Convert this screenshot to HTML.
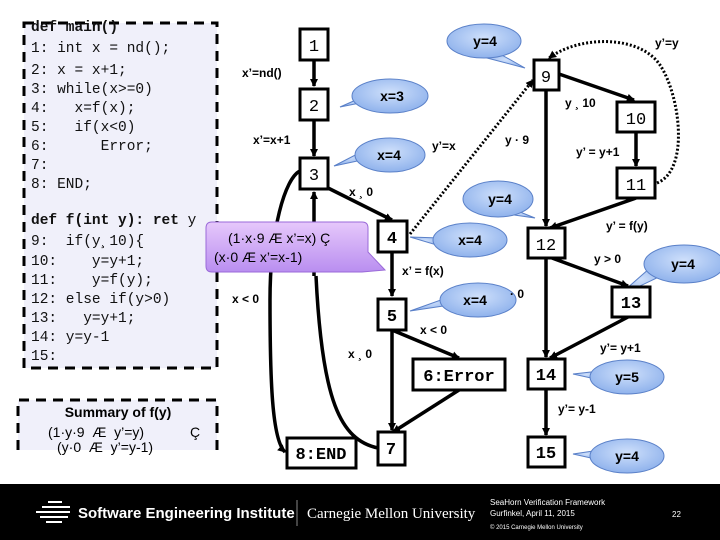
<!DOCTYPE html>
<html><head><meta charset="utf-8"><style>
body{margin:0;width:720px;height:540px;overflow:hidden;background:#fff;font-family:"Liberation Sans",sans-serif}
svg{position:absolute;left:0;top:0}
text{white-space:pre}
</style></head><body>
<svg width="720" height="540" viewBox="0 0 720 540" xml:space="preserve">
<defs>
<marker id="a" markerWidth="8" markerHeight="8" refX="7" refY="4" orient="auto" markerUnits="userSpaceOnUse"><path d="M0,0 L8,4 L0,8 z" fill="#000"/></marker>
<radialGradient id="bg" cx="50%" cy="40%" r="60%"><stop offset="0" stop-color="#cfe0fb"/><stop offset="1" stop-color="#8fb2ec"/></radialGradient>
<linearGradient id="pg" x1="0" y1="0" x2="0" y2="1"><stop offset="0" stop-color="#e6c8fb"/><stop offset="1" stop-color="#b98ef0"/></linearGradient>
</defs>
<rect x="24" y="23" width="193" height="345" fill="#f0f0fa" stroke="#000" stroke-width="3" stroke-dasharray="10,7"/>
<g font-family="Liberation Mono,monospace" font-size="14.5" fill="#111">
<text x="31" y="31" font-weight="bold">def main()</text>
<text x="31" y="52">1: int x = nd();</text>
<text x="31" y="74">2: x = x+1;</text>
<text x="31" y="93">3: while(x&gt;=0)</text>
<text x="31" y="112">4:   x=f(x);</text>
<text x="31" y="131">5:   if(x&lt;0)</text>
<text x="31" y="150">6:      Error;</text>
<text x="31" y="169">7:</text>
<text x="31" y="188">8: END;</text>
<text x="31" y="224" font-weight="bold">def f(int y): ret <tspan font-weight="normal">y</tspan></text>
<text x="31" y="245">9:  if(y¸10){</text>
<text x="31" y="265">10:    y=y+1;</text>
<text x="31" y="284">11:    y=f(y);</text>
<text x="31" y="303">12: else if(y&gt;0)</text>
<text x="31" y="322">13:   y=y+1;</text>
<text x="31" y="341">14: y=y-1</text>
<text x="31" y="360">15:</text>
</g>
<rect x="18" y="400" width="199" height="50" fill="#f0f0fa"/>
<path d="M18,450 V400 H217 V450" fill="none" stroke="#000" stroke-width="3" stroke-dasharray="10,7"/>
<text x="118" y="417" text-anchor="middle" font-size="14" font-weight="bold">Summary of f(y)</text>
<text x="48" y="437" font-size="14">(1·y·9  Æ  y’=y)</text>
<text x="190" y="437" font-size="14">Ç</text>
<text x="57" y="452" font-size="14">(y·0  Æ  y’=y-1)</text>

<g stroke="#000" stroke-width="3.5" fill="none">
<line x1="314" y1="60" x2="314" y2="86" marker-end="url(#a)"/>
<line x1="314" y1="120" x2="314" y2="156" marker-end="url(#a)"/>
<line x1="328" y1="188" x2="392" y2="220" marker-end="url(#a)"/>
<line x1="392" y1="252" x2="392" y2="296" marker-end="url(#a)"/>
<line x1="392" y1="330" x2="392" y2="430" marker-end="url(#a)"/>
<line x1="392" y1="330" x2="459" y2="358" marker-end="url(#a)"/>
<line x1="459" y1="390" x2="393" y2="432" marker-end="url(#a)"/>
<path d="M378,448 C340,440 322,400 316,276" />
<line x1="314" y1="276" x2="314" y2="192" marker-end="url(#a)"/>
<path d="M300,171 C285,178 270,230 270,300 C270,380 272,440 285,452" marker-end="url(#a)"/>
<line x1="559" y1="74" x2="634" y2="100" marker-end="url(#a)"/>
<line x1="636" y1="132" x2="636" y2="166" marker-end="url(#a)"/>
<line x1="546" y1="90" x2="546" y2="226" marker-end="url(#a)"/>
<line x1="636" y1="198" x2="550" y2="228" marker-end="url(#a)"/>
<line x1="552" y1="258" x2="628" y2="286" marker-end="url(#a)"/>
<line x1="546" y1="258" x2="546" y2="357" marker-end="url(#a)"/>
<line x1="628" y1="317" x2="550" y2="358" marker-end="url(#a)"/>
<line x1="546" y1="389" x2="546" y2="435" marker-end="url(#a)"/>
</g>
<g stroke="#000" stroke-width="3" fill="none" stroke-dasharray="2,2">
<line x1="410" y1="234" x2="533" y2="80" marker-end="url(#a)"/>
<path d="M657,183 C690,170 680,95 660,65 C640,35 580,35 549,58" marker-end="url(#a)"/>
</g>

<g fill="url(#bg)" stroke="#5a80c8" stroke-width="1">
<path d="M487,58 L525,68 L500,54 Z"/><ellipse cx="484" cy="41" rx="37" ry="17"/>
<path d="M360,103 L340,107 L365,96 Z"/><ellipse cx="390" cy="96" rx="38" ry="17"/>
<path d="M362,160 L334,166 L365,150 Z"/><ellipse cx="390" cy="155" rx="35" ry="17"/>
<path d="M515,210 L535,218 L500,213 Z"/><ellipse cx="498" cy="199" rx="35" ry="18"/>
<path d="M440,238 L410,237 L440,246 Z"/><ellipse cx="470" cy="240" rx="37" ry="17"/>
<path d="M665,274 L617,297 L650,268 Z"/><ellipse cx="684" cy="264" rx="40" ry="19"/>
<path d="M450,305 L410,311 L452,296 Z"/><ellipse cx="478" cy="300" rx="38" ry="17"/>
<path d="M600,371 L573,374 L600,380 Z"/><ellipse cx="627" cy="377" rx="37" ry="17"/>
<path d="M600,450 L573,454 L600,460 Z"/><ellipse cx="627" cy="456" rx="37" ry="17"/>
</g>
<g font-size="14" font-weight="bold" text-anchor="middle">
<text x="485" y="46">y=4</text><text x="392" y="101">x=3</text><text x="389" y="160">x=4</text>
<text x="500" y="204">y=4</text><text x="470" y="245">x=4</text><text x="683" y="269">y=4</text>
<text x="475" y="305">x=4</text><text x="627" y="382">y=5</text><text x="627" y="461">y=4</text>
</g>
<path d="M212,222 H362 Q368,222 368,228 V252 L385,270 L362,272 H212 Q206,272 206,266 V228 Q206,222 212,222 Z" fill="url(#pg)" stroke="#9a6ad8" stroke-width="1"/>
<text x="228" y="243" font-size="14">(1·x·9 Æ x’=x) Ç</text>
<text x="214" y="262" font-size="14">(x·0 Æ x’=x-1)</text>

<g fill="#fff" stroke="#000" stroke-width="3">
<rect x="300" y="29" width="28" height="31"/><rect x="300" y="89" width="28" height="31"/><rect x="300" y="158" width="28" height="31"/>
<rect x="378" y="221" width="29" height="31"/><rect x="378" y="299" width="28" height="31"/><rect x="413" y="359" width="92" height="31"/>
<rect x="378" y="432" width="27" height="33"/><rect x="287" y="438" width="69" height="30"/>
<rect x="534" y="60" width="25" height="30"/><rect x="617" y="102" width="38" height="30"/><rect x="617" y="168" width="38" height="30"/>
<rect x="528" y="228" width="37" height="30"/><rect x="612" y="287" width="38" height="30"/><rect x="528" y="359" width="37" height="30"/><rect x="528" y="437" width="37" height="30"/>
</g>
<g font-family="Liberation Mono,monospace" font-size="17" text-anchor="middle">
<text x="314" y="51">1</text><text x="314" y="111">2</text><text x="314" y="180">3</text>
<text x="392" y="243" font-weight="bold">4</text><text x="392" y="321" font-weight="bold">5</text>
<text x="459" y="381" font-weight="bold">6:Error</text><text x="391" y="454" font-weight="bold">7</text>
<text x="321" y="459" font-weight="bold">8:END</text>
<text x="546" y="82">9</text><text x="636" y="124">10</text><text x="636" y="190">11</text>
<text x="546" y="250">12</text><text x="631" y="308" font-weight="bold">13</text><text x="546" y="380" font-weight="bold">14</text><text x="546" y="458" font-weight="bold">15</text>
</g>
<g font-size="12" font-weight="bold">
<text x="242" y="77">x’=nd()</text><text x="253" y="144">x’=x+1</text>
<text x="349" y="196">x ¸ 0</text><text x="402" y="275">x’ = f(x)</text>
<text x="232" y="303">x &lt; 0</text><text x="420" y="334">x &lt; 0</text>
<text x="348" y="358">x ¸ 0</text><text x="510" y="298">· 0</text>
<text x="432" y="150">y’=x</text><text x="505" y="144">y · 9</text>
<text x="565" y="107">y ¸ 10</text><text x="576" y="156">y’ = y+1</text>
<text x="655" y="47">y’=y</text><text x="606" y="230">y’ = f(y)</text>
<text x="594" y="263">y &gt; 0</text><text x="600" y="352">y’= y+1</text>
<text x="558" y="413">y’= y-1</text>
</g>
<rect x="0" y="484" width="720" height="56" fill="#000"/>
<g stroke="#fff" stroke-width="2">
<line x1="48" y1="502" x2="62" y2="502"/><line x1="42" y1="507" x2="70" y2="507"/><line x1="36" y1="512" x2="70" y2="512"/>
<line x1="40" y1="517" x2="68" y2="517"/><line x1="46" y1="522" x2="62" y2="522"/>
</g>
<text x="78" y="518" fill="#fff" font-size="15" font-weight="bold">Software Engineering Institute</text>
<line x1="297" y1="500" x2="297" y2="526" stroke="#888"/>
<text x="307" y="518" fill="#fff" font-family="Liberation Serif,serif" font-size="15">Carnegie Mellon University</text>
<text x="490" y="505" fill="#fff" font-size="8">SeaHorn Verification Framework</text>
<text x="490" y="516" fill="#fff" font-size="8">Gurfinkel, April 11, 2015</text>
<text x="490" y="529" fill="#fff" font-size="6">© 2015 Carnegie Mellon University</text>
<text x="672" y="517" fill="#fff" font-size="8">22</text>
</svg>
</body></html>
